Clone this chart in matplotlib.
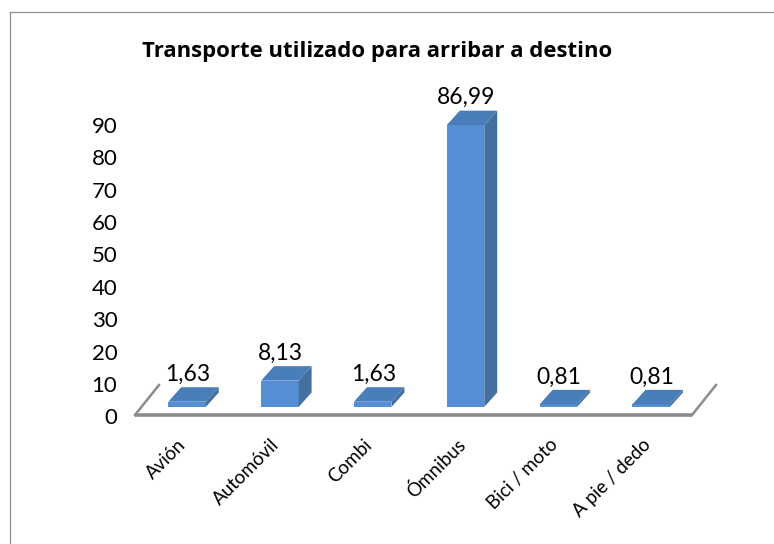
import matplotlib
matplotlib.use("Agg")
import matplotlib.pyplot as plt
from matplotlib.lines import Line2D
from matplotlib.patches import Polygon, Rectangle
from matplotlib.transforms import ScaledTranslation

categories = ["Avión", "Automóvil", "Combi", "Ómnibus", "Bici / moto", "A pie / dedo"]
values = [1.63, 8.13, 1.63, 86.99, 0.81, 0.81]
value_labels = ["1,63", "8,13", "1,63", "86,99", "0,81", "0,81"]
yticks = list(range(0, 100, 10))

W, H = 774, 544
plt.rcParams["font.family"] = ["Lato", "DejaVu Sans"]
fig = plt.figure(figsize=(W / 100, H / 100), dpi=100, facecolor="white")
fig.add_artist(Line2D([9.5 / W, 9.5 / W, 1], [0, 1 - 11.5 / H, 1 - 11.5 / H],
                      transform=fig.transFigure, color="#8f8f8f", lw=0.9))

x0, x1, y_bot, y_top = 135, 692, 415, 123.4
ax = fig.add_axes([x0 / W, 1 - y_bot / H, (x1 - x0) / W, (y_bot - y_top) / H])
ax.set_xlim(-0.5, 5.5)
ax.set_ylim(0, 90)
ax.patch.set_alpha(0)
for s in ax.spines.values():
    s.set_visible(False)

px_x = 6 / (x1 - x0)
px_y = 90 / (y_bot - y_top)
bar_w = 37.5 * px_x
bar_dx, bar_dy = 13 * px_x, 14.5 * px_y
shift_x, base = 5.6 * px_x, 8 * px_y
FRONT, TOP, SIDE = "#558ed5", "#4a7ebb", "#44709f"

# floor
floor = "#8c8c8c"
ax.plot([-0.5, 5.5], [0, 0], color=floor, lw=2.6, clip_on=False, solid_capstyle="butt", zorder=1)
for xs in (-0.5, 5.5):
    ax.plot([xs, xs + 24 * px_x], [0, 30 * px_y], color=floor, lw=1.8, clip_on=False, zorder=1)

for i, (v, lab) in enumerate(zip(values, value_labels)):
    l = i - bar_w / 2 + shift_x
    r = l + bar_w
    t = base + v
    ax.add_patch(Rectangle((l, base), bar_w, v, fc=FRONT, ec="none", clip_on=False, zorder=3))
    ax.add_patch(Polygon([(l, t), (r, t), (r + bar_dx, t + bar_dy), (l + bar_dx, t + bar_dy)],
                         fc=TOP, ec="none", clip_on=False, zorder=3))
    ax.add_patch(Polygon([(r, base), (r + bar_dx, base + bar_dy), (r + bar_dx, t + bar_dy), (r, t)],
                         fc=SIDE, ec="none", clip_on=False, zorder=3))
    ax.text(l + bar_w / 2 + bar_dx / 2 - 6 * px_x, t + bar_dy + 2.5 * px_y, lab, ha="center", va="bottom",
            fontsize=16.5, color="black", clip_on=False, zorder=4)

ax.set_yticks(yticks)
ax.set_yticklabels([str(v) for v in yticks], fontsize=16, color="black")
ax.tick_params(axis="y", length=0, pad=12.7)
for t in ax.get_yticklabels():
    t.set_transform(t.get_transform() + ScaledTranslation(0, -1.5 / 100, fig.dpi_scale_trans))
ax.set_xticks(range(len(categories)))
ax.set_xticklabels(categories, rotation=45, ha="right", rotation_mode="anchor",
                   fontsize=13.5, color="black")
ax.tick_params(axis="x", length=0, pad=15)
for t in ax.get_xticklabels():
    t.set_transform(t.get_transform() + ScaledTranslation(-4 / 100, 0, fig.dpi_scale_trans))

fig.text(377 / W, 1 - 52 / H, "Transporte utilizado para arribar a destino", ha="center", va="center",
         fontsize=15.9, fontweight="bold", color="black", family=["Open Sans", "DejaVu Sans"])
fig.savefig("out.png", dpi=100)
